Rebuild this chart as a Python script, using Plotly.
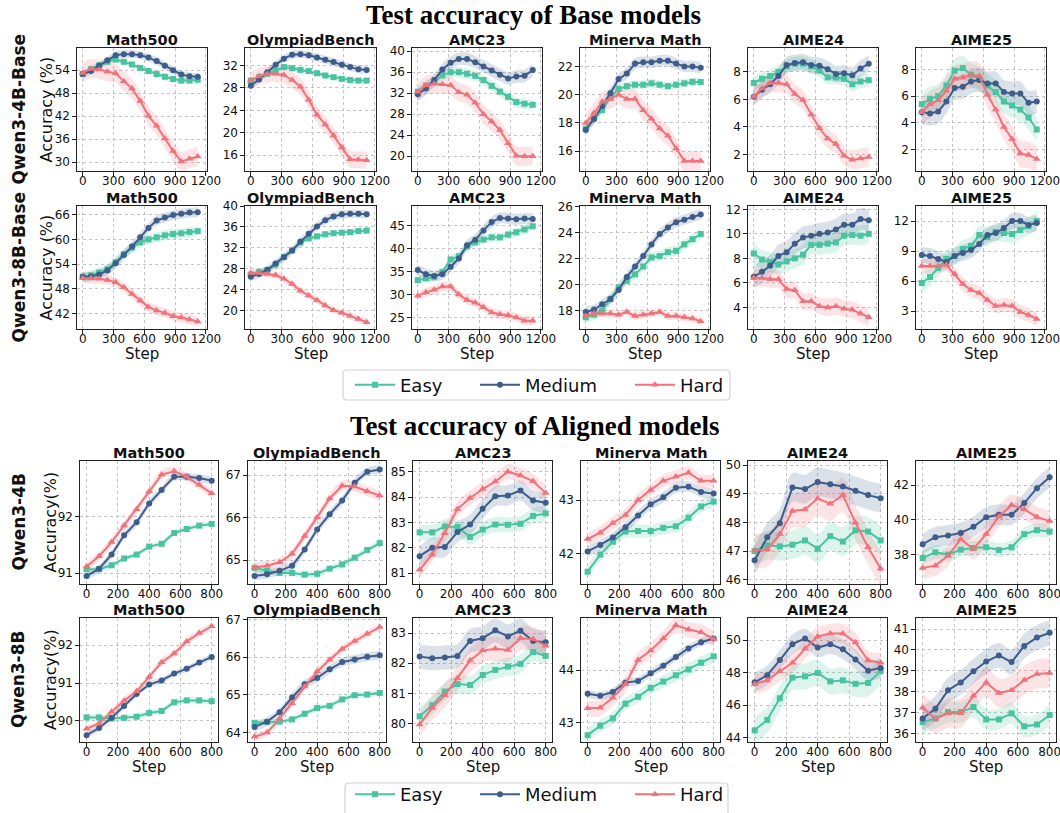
import plotly.graph_objects as go

# ---------------- data ----------------
steps_base = [0, 80, 160, 240, 320, 400, 480, 560, 640, 720, 800, 880, 960, 1040, 1120]
steps_aligned = [0, 80, 160, 240, 320, 400, 480, 560, 640, 720, 800]
benchmarks = ["Math500", "OlympiadBench", "AMC23", "Minerva Math", "AIME24", "AIME25"]
levels = ["Easy", "Medium", "Hard"]
row_labels = ["Qwen3-4B-Base", "Qwen3-8B-Base", "Qwen3-4B", "Qwen3-8B"]
ylabels = ["Accuracy (%)", "Accuracy (%)", "Accuracy(%)", "Accuracy(%)"]
section_titles = ["Test accuracy of Base models", "Test accuracy of Aligned models"]
xticks_base = [0, 300, 600, 900, 1200]
xticks_aligned = [0, 200, 400, 600, 800]

# Qwen3-4B-Base
b4_math500_easy = [53.0, 54.3, 55.3, 56.2, 56.8, 56.2, 55.5, 54.6, 53.8, 53.0, 52.3, 51.7, 51.3, 51.3, 51.5]
b4_math500_medium = [53.0, 53.8, 55.2, 56.6, 57.9, 58.2, 58.2, 57.9, 57.3, 56.4, 55.2, 54.0, 52.9, 52.4, 52.3]
b4_math500_hard = [53.3, 54.4, 54.2, 53.6, 53.2, 51.1, 49.2, 46.0, 42.1, 39.5, 36.2, 32.9, 30.2, 30.9, 31.5]
b4_olympiad_easy = [29.3, 29.9, 30.5, 31.0, 31.7, 31.5, 31.2, 31.0, 30.6, 30.2, 29.9, 29.6, 29.4, 29.3, 29.3]
b4_olympiad_medium = [28.4, 29.5, 30.8, 32.1, 33.2, 33.9, 34.0, 33.8, 33.4, 33.0, 32.6, 32.1, 31.7, 31.3, 31.2]
b4_olympiad_hard = [29.3, 30.1, 30.5, 30.5, 30.3, 29.4, 28.2, 25.9, 23.2, 21.5, 19.5, 17.4, 15.3, 15.2, 15.1]
b4_amc23_easy = [32.3, 33.4, 34.1, 35.4, 36.0, 36.0, 35.7, 35.3, 34.5, 33.4, 32.3, 31.3, 30.3, 30.0, 29.8]
b4_amc23_medium = [31.8, 32.9, 34.5, 36.5, 37.8, 38.5, 38.5, 37.9, 37.1, 36.3, 35.5, 34.8, 35.2, 35.3, 36.4]
b4_amc23_hard = [32.3, 33.5, 33.8, 33.7, 33.5, 32.2, 31.7, 30.2, 28.0, 26.6, 25.0, 22.5, 20.1, 20.0, 20.0]
b4_minerva_easy = [17.6, 18.3, 18.9, 19.8, 20.4, 20.6, 20.7, 20.7, 20.8, 20.7, 20.6, 20.7, 20.8, 20.9, 20.9]
b4_minerva_medium = [17.5, 18.3, 19.2, 20.1, 21.1, 21.5, 22.2, 22.3, 22.3, 22.4, 22.4, 22.2, 22.0, 22.0, 21.9]
b4_minerva_hard = [18.0, 18.7, 19.5, 19.7, 20.0, 19.7, 19.7, 18.9, 18.3, 17.6, 17.1, 16.2, 15.3, 15.3, 15.3]
b4_aime24_easy = [7.2, 7.5, 7.7, 8.0, 8.4, 8.6, 8.6, 8.4, 8.1, 7.6, 7.6, 7.5, 7.1, 7.3, 7.4]
b4_aime24_medium = [6.2, 6.7, 7.1, 7.7, 8.5, 8.65, 8.7, 8.5, 8.45, 8.2, 7.85, 7.9, 7.75, 8.25, 8.6]
b4_aime24_hard = [6.2, 6.8, 7.2, 7.2, 7.1, 6.4, 5.95, 4.9, 3.9, 3.15, 2.75, 1.9, 1.6, 1.7, 1.8]
b4_aime25_easy = [5.4, 5.8, 6.0, 6.8, 7.9, 8.1, 7.6, 7.3, 6.8, 6.3, 5.6, 5.3, 5.0, 4.4, 3.5]
b4_aime25_medium = [4.8, 4.7, 4.85, 5.6, 6.6, 6.7, 7.1, 7.2, 6.95, 6.95, 6.3, 6.2, 6.2, 5.5, 5.6]
b4_aime25_hard = [4.8, 5.4, 5.7, 6.4, 7.3, 7.4, 7.6, 7.5, 6.1, 5.0, 3.7, 2.8, 1.7, 1.6, 1.3]

# Qwen3-8B-Base
b8_math500_easy = [51.0, 51.3, 52.0, 52.8, 54.5, 56.5, 58.0, 59.3, 60.0, 60.5, 61.0, 61.3, 61.5, 61.8, 62.0]
b8_math500_medium = [50.9, 51.0, 51.5, 52.5, 54.2, 56.2, 58.3, 60.5, 62.8, 64.6, 65.3, 65.9, 66.2, 66.5, 66.6]
b8_math500_hard = [50.6, 50.6, 50.5, 50.2, 49.6, 48.4, 46.8, 45.2, 43.6, 42.8, 42.2, 41.4, 41.1, 40.6, 40.1]
b8_olympiad_easy = [26.9, 27.4, 27.8, 28.8, 30.3, 31.5, 33.0, 33.8, 34.2, 34.6, 34.8, 34.9, 35.0, 35.2, 35.3]
b8_olympiad_medium = [26.5, 27.0, 27.8, 29.0, 30.2, 31.5, 33.2, 34.7, 36.1, 37.3, 38.0, 38.4, 38.5, 38.5, 38.4]
b8_olympiad_hard = [27.2, 27.2, 27.0, 26.8, 26.1, 25.1, 23.8, 22.9, 22.0, 21.0, 20.1, 19.6, 19.0, 18.4, 17.8]
b8_amc23_easy = [33.2, 33.6, 33.9, 35.0, 37.7, 38.4, 40.5, 41.4, 42.0, 42.5, 42.5, 43.1, 43.6, 44.2, 44.9]
b8_amc23_medium = [35.4, 34.5, 34.1, 34.5, 36.1, 37.9, 40.8, 42.0, 44.0, 45.8, 46.7, 46.6, 46.4, 46.6, 46.5]
b8_amc23_hard = [29.8, 30.6, 31.1, 31.8, 31.8, 30.1, 28.9, 28.3, 27.3, 26.2, 25.8, 25.6, 25.1, 24.4, 24.4]
b8_minerva_easy = [17.5, 17.7, 18.0, 18.9, 19.8, 20.3, 20.8, 21.4, 22.1, 22.2, 22.5, 22.6, 23.1, 23.5, 23.9]
b8_minerva_medium = [17.9, 18.1, 18.5, 18.9, 19.6, 20.6, 21.4, 22.2, 23.1, 23.9, 24.4, 24.8, 25.0, 25.2, 25.4]
b8_minerva_hard = [17.6, 17.8, 17.8, 17.8, 17.7, 17.9, 17.6, 17.7, 17.8, 17.9, 17.6, 17.6, 17.5, 17.4, 17.2]
b8_aime24_easy = [8.4, 7.9, 7.7, 7.5, 7.75, 8.0, 8.3, 9.1, 9.1, 9.2, 9.3, 9.85, 9.9, 9.85, 10.0]
b8_aime24_medium = [6.5, 6.9, 7.4, 8.2, 8.5, 9.2, 9.7, 9.85, 10.0, 10.1, 10.35, 10.75, 10.75, 11.2, 11.1]
b8_aime24_hard = [6.4, 6.4, 6.3, 6.3, 5.5, 5.4, 4.5, 4.5, 4.1, 4.0, 4.1, 3.9, 3.8, 3.5, 3.2]
b8_aime25_easy = [5.8, 6.4, 7.3, 8.2, 8.5, 9.2, 9.5, 10.6, 10.4, 10.9, 10.8, 10.7, 11.1, 11.5, 12.0]
b8_aime25_medium = [8.6, 8.5, 8.2, 7.9, 8.5, 8.8, 9.1, 9.7, 10.6, 10.8, 11.3, 12.0, 12.0, 11.6, 11.8]
b8_aime25_hard = [7.5, 7.5, 7.5, 7.6, 6.7, 5.7, 5.1, 4.8, 4.1, 3.5, 3.6, 3.5, 2.9, 2.6, 2.2]

# Qwen3-4B (aligned)
a4_math500_easy = [91.07, 91.07, 91.14, 91.26, 91.33, 91.47, 91.52, 91.71, 91.78, 91.84, 91.87]
a4_math500_medium = [90.95, 91.08, 91.33, 91.67, 91.90, 92.23, 92.47, 92.70, 92.70, 92.68, 92.63]
a4_math500_hard = [91.12, 91.30, 91.55, 91.84, 92.13, 92.44, 92.74, 92.80, 92.70, 92.56, 92.41]
a4_olympiad_easy = [64.82, 64.75, 64.70, 64.70, 64.66, 64.68, 64.80, 64.90, 65.06, 65.24, 65.40]
a4_olympiad_medium = [64.63, 64.67, 64.75, 64.87, 65.25, 65.72, 66.08, 66.40, 66.82, 67.08, 67.13]
a4_olympiad_hard = [64.83, 64.87, 64.95, 65.15, 65.57, 66.00, 66.45, 66.75, 66.73, 66.62, 66.52]
a4_amc23_easy = [82.61, 82.61, 82.84, 82.82, 82.43, 82.72, 82.92, 82.91, 82.95, 83.26, 83.36]
a4_amc23_medium = [81.67, 82.00, 82.03, 82.62, 82.92, 83.54, 84.04, 84.07, 84.26, 83.87, 83.78]
a4_amc23_hard = [81.13, 81.74, 82.58, 83.53, 83.97, 84.32, 84.62, 85.01, 84.86, 84.63, 84.17]
a4_minerva_easy = [41.66, 41.98, 42.22, 42.41, 42.42, 42.42, 42.48, 42.51, 42.67, 42.88, 42.97]
a4_minerva_medium = [42.04, 42.16, 42.30, 42.49, 42.71, 42.92, 43.05, 43.23, 43.25, 43.15, 43.12]
a4_minerva_hard = [42.27, 42.39, 42.57, 42.72, 43.00, 43.19, 43.36, 43.44, 43.51, 43.36, 43.36]
a4_aime24_easy = [47.00, 47.20, 47.16, 47.22, 47.37, 47.08, 47.52, 47.33, 47.72, 47.68, 47.37]
a4_aime24_medium = [46.68, 47.48, 47.97, 49.22, 49.16, 49.41, 49.33, 49.25, 49.10, 48.95, 48.84]
a4_aime24_hard = [47.02, 47.05, 47.59, 48.40, 48.45, 48.83, 48.65, 48.95, 47.99, 47.13, 46.38]
a4_aime25_easy = [37.80, 38.13, 38.00, 38.28, 38.38, 38.42, 38.26, 38.42, 39.18, 39.41, 39.33]
a4_aime25_medium = [38.60, 39.00, 39.10, 39.25, 39.60, 40.15, 40.30, 40.30, 40.97, 41.83, 42.46]
a4_aime25_hard = [37.23, 37.36, 37.93, 38.89, 38.32, 39.18, 40.19, 40.86, 40.61, 40.17, 39.93]

# Qwen3-8B (aligned)
a8_math500_easy = [90.09, 90.09, 90.06, 90.08, 90.11, 90.21, 90.26, 90.49, 90.54, 90.54, 90.52]
a8_math500_medium = [89.62, 89.81, 90.08, 90.39, 90.71, 90.96, 91.07, 91.25, 91.38, 91.54, 91.69]
a8_math500_hard = [89.79, 89.93, 90.24, 90.53, 90.78, 91.16, 91.55, 91.78, 92.10, 92.32, 92.50]
a8_olympiad_easy = [64.26, 64.28, 64.29, 64.35, 64.50, 64.65, 64.71, 64.88, 64.99, 65.01, 65.05]
a8_olympiad_medium = [64.15, 64.29, 64.54, 64.93, 65.28, 65.45, 65.68, 65.87, 65.94, 66.01, 66.05]
a8_olympiad_hard = [63.89, 64.00, 64.37, 64.78, 65.22, 65.62, 65.93, 66.22, 66.43, 66.62, 66.80]
a8_amc23_easy = [80.24, 80.61, 81.06, 81.31, 81.28, 81.61, 81.78, 81.89, 81.98, 82.37, 82.24]
a8_amc23_medium = [82.22, 82.17, 82.19, 82.24, 82.74, 82.83, 83.09, 82.89, 83.08, 82.74, 82.70]
a8_amc23_hard = [79.97, 80.52, 80.94, 81.50, 82.09, 82.42, 82.48, 82.44, 82.83, 82.80, 82.58]
a8_minerva_easy = [42.76, 42.94, 43.08, 43.36, 43.49, 43.66, 43.78, 43.90, 44.01, 44.14, 44.26]
a8_minerva_medium = [43.55, 43.51, 43.58, 43.76, 43.79, 43.94, 44.08, 44.25, 44.41, 44.53, 44.60]
a8_minerva_hard = [43.27, 43.28, 43.47, 43.73, 44.19, 44.37, 44.60, 44.85, 44.77, 44.72, 44.59]
a8_aime24_easy = [44.46, 45.10, 46.43, 47.70, 47.78, 47.99, 47.47, 47.53, 47.32, 47.37, 48.10]
a8_aime24_medium = [47.41, 47.85, 48.78, 49.76, 50.11, 49.55, 49.76, 49.44, 48.82, 48.13, 48.30]
a8_aime24_hard = [47.30, 47.53, 48.09, 48.61, 49.48, 50.23, 50.42, 50.42, 49.86, 48.76, 48.61]
a8_aime25_easy = [36.55, 36.72, 37.03, 37.03, 37.27, 36.68, 36.68, 36.97, 36.35, 36.44, 36.89]
a8_aime25_medium = [36.72, 37.19, 38.08, 38.45, 38.98, 39.45, 39.74, 39.42, 40.19, 40.60, 40.82]
a8_aime25_hard = [37.24, 36.71, 36.97, 36.97, 37.81, 38.45, 37.94, 38.08, 38.56, 38.85, 38.90]

# shaded band half-widths (easy, medium, hard) per panel
b4_bands = [[0.8, 1.0, 2.5], [0.5, 0.7, 1.5], [1.0, 1.2, 1.8], [0.3, 0.4, 0.7], [0.5, 0.6, 0.7], [0.9, 0.9, 1.0]]
b8_bands = [[1.2, 1.2, 1.2], [0.6, 0.8, 0.7], [0.9, 1.2, 1.0], [0.4, 0.4, 0.3], [0.8, 0.9, 0.7], [0.9, 0.8, 0.7]]
a4_bands = [[0.05, 0.07, 0.08], [0.08, 0.10, 0.12], [0.3, 0.4, 0.3], [0.12, 0.10, 0.12], [0.5, 0.5, 0.6], [0.4, 0.6, 0.6]]
a8_bands = [[0.08, 0.08, 0.10], [0.08, 0.12, 0.10], [0.3, 0.4, 0.4], [0.12, 0.08, 0.15], [0.8, 0.6, 0.6], [0.5, 0.6, 0.7]]

# y-axis ranges and tick spacing per panel
b4_yranges = [[27.7, 59.8], [13.2, 35.1], [17.2, 40.6], [14.6, 23.3], [0.79, 9.74], [0.4, 9.6]]
b8_yranges = [[38.3, 68.1], [16.5, 40.0], [22.6, 49.3], [16.6, 26.05], [2.24, 12.27], [1.2, 13.5]]
a4_yranges = [[90.81, 92.98], [64.44, 67.33], [80.57, 85.43], [41.43, 43.73], [45.85, 50.14], [36.3, 43.4]]
a8_yranges = [[89.44, 92.72], [63.75, 67.04], [79.39, 83.5], [42.63, 44.99], [43.74, 51.37], [35.6, 41.53]]
b4_dticks = [6, 4, 4, 2, 2, 2]
b8_dticks = [6, 4, 5, 2, 2, 3]
a4_dticks = [1, 1, 1, 1, 1, 2]
a8_dticks = [1, 1, 1, 1, 2, 1]

rows_data = [
    [[b4_math500_easy, b4_math500_medium, b4_math500_hard],
     [b4_olympiad_easy, b4_olympiad_medium, b4_olympiad_hard],
     [b4_amc23_easy, b4_amc23_medium, b4_amc23_hard],
     [b4_minerva_easy, b4_minerva_medium, b4_minerva_hard],
     [b4_aime24_easy, b4_aime24_medium, b4_aime24_hard],
     [b4_aime25_easy, b4_aime25_medium, b4_aime25_hard]],
    [[b8_math500_easy, b8_math500_medium, b8_math500_hard],
     [b8_olympiad_easy, b8_olympiad_medium, b8_olympiad_hard],
     [b8_amc23_easy, b8_amc23_medium, b8_amc23_hard],
     [b8_minerva_easy, b8_minerva_medium, b8_minerva_hard],
     [b8_aime24_easy, b8_aime24_medium, b8_aime24_hard],
     [b8_aime25_easy, b8_aime25_medium, b8_aime25_hard]],
    [[a4_math500_easy, a4_math500_medium, a4_math500_hard],
     [a4_olympiad_easy, a4_olympiad_medium, a4_olympiad_hard],
     [a4_amc23_easy, a4_amc23_medium, a4_amc23_hard],
     [a4_minerva_easy, a4_minerva_medium, a4_minerva_hard],
     [a4_aime24_easy, a4_aime24_medium, a4_aime24_hard],
     [a4_aime25_easy, a4_aime25_medium, a4_aime25_hard]],
    [[a8_math500_easy, a8_math500_medium, a8_math500_hard],
     [a8_olympiad_easy, a8_olympiad_medium, a8_olympiad_hard],
     [a8_amc23_easy, a8_amc23_medium, a8_amc23_hard],
     [a8_minerva_easy, a8_minerva_medium, a8_minerva_hard],
     [a8_aime24_easy, a8_aime24_medium, a8_aime24_hard],
     [a8_aime25_easy, a8_aime25_medium, a8_aime25_hard]],
]
rows_bands = [b4_bands, b8_bands, a4_bands, a8_bands]
rows_yranges = [b4_yranges, b8_yranges, a4_yranges, a8_yranges]
rows_dticks = [b4_dticks, b8_dticks, a4_dticks, a8_dticks]

# ---------------- style / layout ----------------
W, H = 1060, 813
COLORS = ["#49c3a0", "#3e5d8b", "#f0727a"]
SYMBOLS = ["square", "circle", "triangle-up"]
MSIZE = [6, 6, 7]
FONT = "DejaVu Sans"
SERIF = "Liberation Serif"

# positions in window pixels
top_cols = [(77, 207), (245, 376), (412, 542), (580, 710), (748, 878), (916, 1046)]
bot_cols = [(80, 218), (248, 386), (413, 552), (581, 720), (748, 887), (916, 1056)]
rows_px = [(48, 171), (206, 329), (461, 584), (618, 742)]
legend_text_x = [400, 525, 680]
legend_center_y = [385, 798]
legend_boxes = [(343, 370, 730, 400), (345, 783, 728, 818)]


def px(xp):
    return xp / W


def py(yp):
    return 1 - yp / H


def rgba(h, a):
    h = h.lstrip("#")
    return "rgba(%d,%d,%d,%.2f)" % (int(h[0:2], 16), int(h[2:4], 16), int(h[4:6], 16), a)


fig = go.Figure()
layout = {}
annotations = []
legend_names = ["legend", "legend2", "legend3", "legend4", "legend5", "legend6"]

k = 0
for r in range(4):
    aligned = r >= 2
    steps = steps_aligned if aligned else steps_base
    cols = bot_cols if aligned else top_cols
    y0, y1 = rows_px[r]
    for c in range(6):
        k += 1
        xn = "x" if k == 1 else "x%d" % k
        yn = "y" if k == 1 else "y%d" % k
        xa = "xaxis" if k == 1 else "xaxis%d" % k
        ya = "yaxis" if k == 1 else "yaxis%d" % k
        x0, x1 = cols[c]
        series = rows_data[r][c]
        bands = rows_bands[r][c]
        for i in range(3):
            vals = series[i]
            w = bands[i]
            fig.add_trace(go.Scatter(
                x=steps, y=[v - w for v in vals], xaxis=xn, yaxis=yn, mode="lines",
                line=dict(width=0, shape="spline", smoothing=1.0, color=COLORS[i]),
                hoverinfo="skip", showlegend=False))
            fig.add_trace(go.Scatter(
                x=steps, y=[v + w for v in vals], xaxis=xn, yaxis=yn, mode="lines",
                line=dict(width=0, shape="spline", smoothing=1.0, color=COLORS[i]),
                fill="tonexty", fillcolor=rgba(COLORS[i], 0.19),
                hoverinfo="skip", showlegend=False))
        for i in range(3):
            show = c == 0 and r in (0, 2)
            fig.add_trace(go.Scatter(
                x=steps, y=series[i], xaxis=xn, yaxis=yn, mode="lines+markers",
                name=levels[i],
                line=dict(color=COLORS[i], width=2),
                marker=dict(symbol=SYMBOLS[i], size=MSIZE[i], color=COLORS[i]),
                showlegend=show,
                legend=legend_names[i + (3 if aligned else 0)]))
        common = dict(showline=True, mirror=True, linecolor="#222222", linewidth=1.3,
                      ticks="outside", ticklen=3.5, tickwidth=1, tickcolor="#222222",
                      showgrid=True, gridcolor="#c4c4c4", griddash="dot", gridwidth=0.8,
                      zeroline=False, automargin=False, ticklabeloverflow="allow",
                      tickfont=dict(family=FONT, size=12, color="#111111"))
        layout[xa] = dict(domain=[px(x0), px(x1)], anchor=yn,
                          range=[-42, 840] if aligned else [-56, 1210],
                          tickmode="array",
                          tickvals=xticks_aligned if aligned else xticks_base,
                          ticklabelstandoff=-5, **common)
        layout[ya] = dict(domain=[py(y1), py(y0)], anchor=xn,
                          range=rows_yranges[r][c], tickmode="linear", tick0=0,
                          dtick=rows_dticks[r][c], ticklabelstandoff=0, **common)
        annotations.append(dict(text="<b>%s</b>" % benchmarks[c], x=px((x0 + x1) / 2),
                                y=py(y0 - 8), xref="paper", yref="paper",
                                xanchor="center", yanchor="middle", showarrow=False,
                                font=dict(family=FONT, size=14.5, color="#111111")))
        if r in (1, 3):
            annotations.append(dict(text="Step", x=px((x0 + x1) / 2), y=py(y1 + 25),
                                    xref="paper", yref="paper", xanchor="center",
                                    yanchor="middle", showarrow=False,
                                    font=dict(family=FONT, size=15, color="#111111")))
    annotations.append(dict(text="<b>%s</b>" % row_labels[r], x=px(18),
                            y=py((y0 + y1) / 2), xref="paper", yref="paper",
                            xanchor="center", yanchor="middle", textangle=-90,
                            showarrow=False, font=dict(family=FONT, size=17, color="#111111")))
    annotations.append(dict(text=ylabels[r], x=px(46 if r < 2 else 50),
                            y=py((y0 + y1) / 2), xref="paper", yref="paper",
                            xanchor="center", yanchor="middle", textangle=-90,
                            showarrow=False, font=dict(family=FONT, size=16, color="#111111")))

annotations.append(dict(text="<b>%s</b>" % section_titles[0], x=px(533), y=1,
                        xref="paper", yref="paper", xanchor="center", yanchor="top",
                        yshift=2, showarrow=False,
                        font=dict(family=SERIF, size=27, color="#000000")))
annotations.append(dict(text="<b>%s</b>" % section_titles[1], x=px(534), y=py(426),
                        xref="paper", yref="paper", xanchor="center", yanchor="middle",
                        showarrow=False, font=dict(family=SERIF, size=27, color="#000000")))

# legend frames (rounded rectangles)
shapes = []
for (bx0, by0, bx1, by1) in legend_boxes:
    rx, ry = 4 / W, 4 / H
    X0, X1, Y0, Y1 = px(bx0), px(bx1), py(by1), py(by0)
    path = ("M %f,%f L %f,%f Q %f,%f %f,%f L %f,%f Q %f,%f %f,%f L %f,%f Q %f,%f %f,%f "
            "L %f,%f Q %f,%f %f,%f Z") % (
        X0 + rx, Y0, X1 - rx, Y0, X1, Y0, X1, Y0 + ry, X1, Y1 - ry, X1, Y1, X1 - rx, Y1,
        X0 + rx, Y1, X0, Y1, X0, Y1 - ry, X0, Y0 + ry, X0, Y0, X0 + rx, Y0)
    shapes.append(dict(type="path", path=path, xref="paper", yref="paper",
                       line=dict(color="#d2d2d2", width=1.2), fillcolor="white", layer="below"))

legends = {}
for s in range(2):
    for i in range(3):
        if s == 0:
            ypos, yanc = py(legend_center_y[0]), "middle"
        else:
            ypos, yanc = 0, "bottom"
        legends[legend_names[i + 3 * s]] = dict(
            orientation="h", x=px(legend_text_x[i] - 50), xanchor="left",
            y=ypos, yanchor=yanc, bgcolor="rgba(0,0,0,0)",
            borderwidth=0, font=dict(family=FONT, size=18, color="#111111"), itemwidth=40)

fig.update_layout(
    width=W, height=H, margin=dict(l=0, r=0, t=0, b=0, autoexpand=False),
    paper_bgcolor="white", plot_bgcolor="white",
    annotations=annotations, shapes=shapes,
    **legends,
    **layout,
)

fig.write_html("out.html", config={"displayModeBar": False},
               post_script="document.body.style.margin='0px';")
